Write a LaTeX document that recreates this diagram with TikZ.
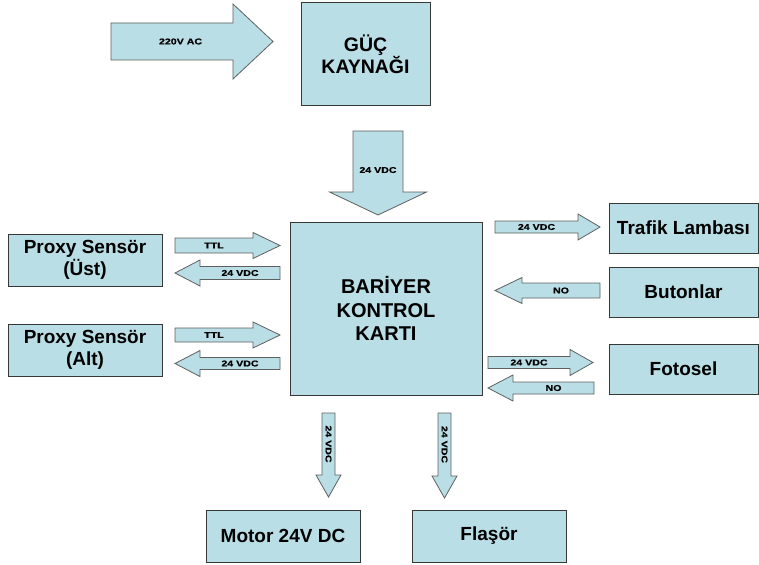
\documentclass[tikz,border=0pt]{standalone}
\usepackage{fontspec}
\setmainfont{Liberation Sans}
\newfontfamily\lblfont[FakeStretch=1.25, FakeBold=0.4]{Liberation Sans}
\usepackage{tikz}
\definecolor{boxfill}{RGB}{185,222,229}
\definecolor{boxline}{RGB}{55,55,55}
\definecolor{arrline}{RGB}{95,95,95}
\tikzset{ashaft/.store in=\ashaft, ahead/.store in=\ahead, ahlen/.store in=\ahlen,
  arot/.store in=\arot, apos/.store in=\apos,
  ashaft=13, ahead=26, ahlen=25, arot=0, apos=0.5}
\newcommand{\barrow}[6][]{%
  \begin{scope}[#1, shift={#3}, rotate=#4]
    \pgfmathsetmacro{\abase}{#5-\ahlen}
    \draw[ar] (0,-\ashaft/2) -- (\abase,-\ashaft/2) -- (\abase,-\ahead/2) -- (#5,0)
      -- (\abase,\ahead/2) -- (\abase,\ashaft/2) -- (0,\ashaft/2) -- cycle;
    \node[t, rotate=\arot] (#2) at (\apos*\abase,0) {#6};
  \end{scope}}

\begin{document}
\begin{tikzpicture}[x=1pt, y=-1pt,
  b/.style={rectangle, draw=boxline, fill=boxfill, line width=1pt, align=center,
            inner sep=2pt, font=\bfseries\fontsize{19}{22}\selectfont},
  ar/.style={draw=arrline, fill=boxfill, line width=0.8pt, line join=miter},
  t/.style={inner sep=0pt, font=\lblfont\bfseries\fontsize{8.5}{10}\selectfont}]
  \useasboundingbox (0,0) rectangle (759,564);
  \node[b, minimum width=129, minimum height=103, font=\bfseries\fontsize{19.5}{22}\selectfont]
    (pwr) at (365.5,54.5) {GÜÇ\\KAYNAĞI};
  \node[b, minimum width=192, minimum height=173, font=\bfseries\fontsize{20}{23.5}\selectfont]
    (ctrl) at (386,308.5) {BARİYER\\KONTROL\\KARTI};
  \node[b, minimum width=154, minimum height=52] (ust) at (85,260) {Proxy Sensör\\(Üst)};
  \node[b, minimum width=154, minimum height=52] (alt) at (85,350) {Proxy Sensör\\(Alt)};
  \node[b, minimum width=149, minimum height=50] (trafik) at (683.5,228) {Trafik Lambası};
  \node[b, minimum width=149, minimum height=50] (buton) at (683.5,292) {Butonlar};
  \node[b, minimum width=149, minimum height=50] (foto) at (683.5,369) {Fotosel};
  \node[b, minimum width=154, minimum height=52] (motor) at (283,536) {Motor 24V DC};
  \node[b, minimum width=154, minimum height=52] (flasor) at (489,536) {Flaşör};

  \barrow[ashaft=37, ahead=75, ahlen=40, apos=0.57]{ac}{(111,41.5)}{0}{162}{220V AC}
  \barrow[ashaft=50, ahead=97, ahlen=23, apos=0.64]{vpwr}{(378,131)}{-90}{84}{24 VDC}
  \barrow[ashaft=15, ahlen=27]{ttlust}{(175,245.5)}{0}{105}{TTL}
  \barrow{vust}{(280,273)}{180}{105}{24 VDC}
  \barrow[ashaft=14, ahlen=27]{ttlalt}{(175,335)}{0}{105}{TTL}
  \barrow[ashaft=12]{valt}{(280,363.5)}{180}{105}{24 VDC}
  \barrow[ashaft=12, ahlen=22]{vtrafik}{(495,227)}{0}{105}{24 VDC}
  \barrow[ashaft=15, ahlen=27]{nobuton}{(600,290.5)}{180}{105}{NO}
  \barrow[ashaft=12, ahlen=23]{vfoto}{(488,362.5)}{0}{105}{24 VDC}
  \barrow[ashaft=12]{nofoto}{(594,388)}{180}{106}{NO}
  \barrow[ashaft=13, ahead=25, ahlen=22, arot=-90]{vmotor}{(328.5,413)}{-90}{84}{24 VDC}
  \barrow[ashaft=13, ahead=25, ahlen=22, arot=-90]{vflasor}{(444.5,413)}{-90}{85}{24 VDC}
\end{tikzpicture}
\end{document}
